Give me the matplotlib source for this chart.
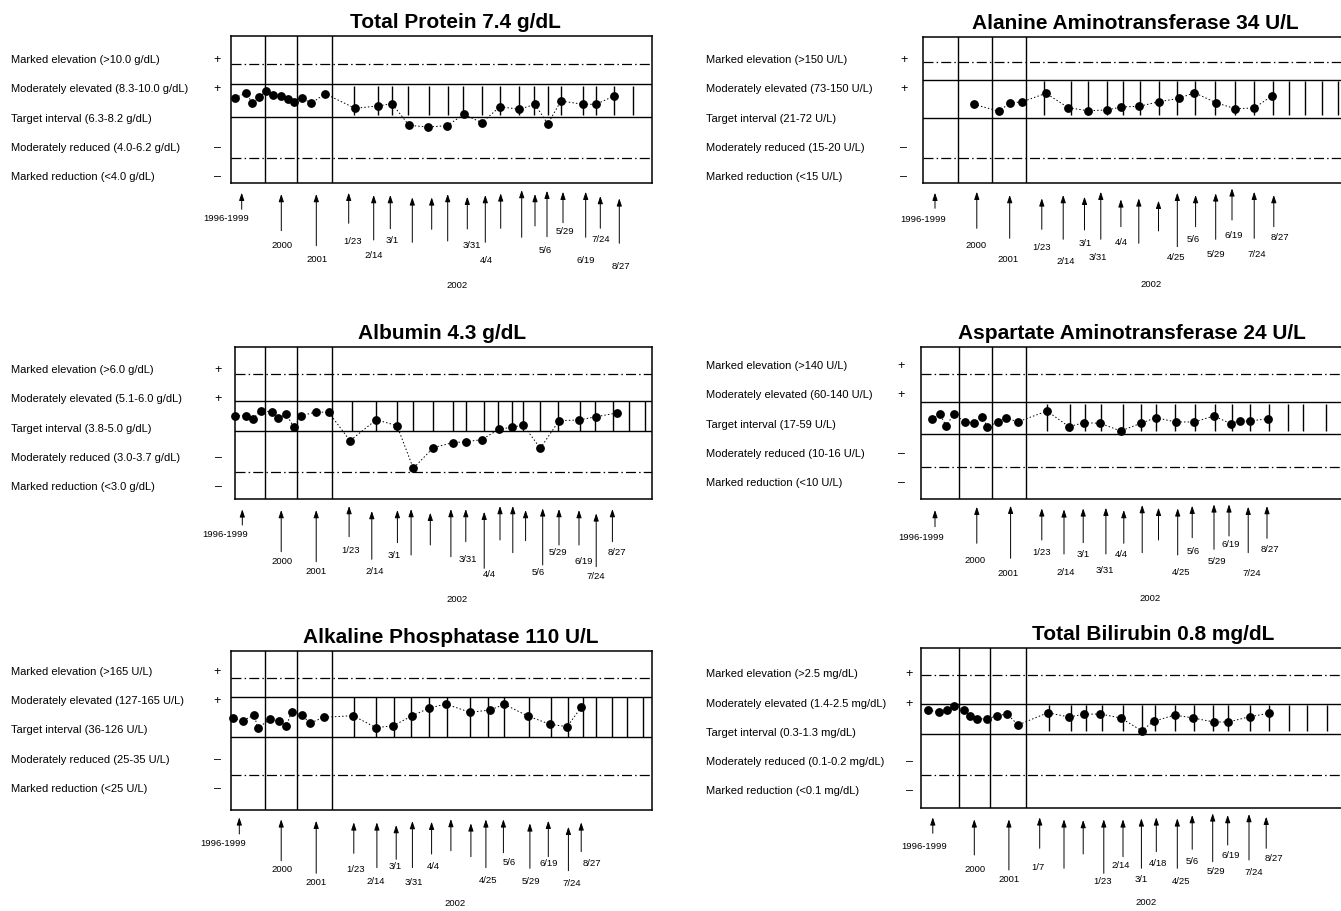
import matplotlib.pyplot as plt
from matplotlib.transforms import blended_transform_factory

plt.rcParams['font.family'] = ['Liberation Sans', 'DejaVu Sans']

FIG_W, FIG_H = 1341, 911

# значения: x - положение по шкале времени, y - уровень внутри рамки
# (единицы условные, отсчёт от левого верхнего угла рамки)

SIGNS = ['+', '+', '', '–', '–']

# ---------- Total Protein ----------
TP_TITLE = 'Total Protein 7.4 g/dL'
TP_ROWS = ['Marked elevation (>10.0 g/dL)', 'Moderately elevated (8.3-10.0 g/dL)',
           'Target interval (6.3-8.2 g/dL)', 'Moderately reduced (4.0-6.2 g/dL)',
           'Marked reduction (<4.0 g/dL)']
TP_X = [4, 15, 21.3, 28.3, 35, 42.3, 50.3, 56.7, 63.3, 70.7, 80.3, 94, 124, 146.7, 161, 178,
        197, 216, 233, 250.7, 269, 288.3, 304, 316.7, 330, 352.3, 365, 383]
TP_Y = [61.7, 57.3, 66.7, 61.3, 55, 59, 59.7, 63, 66, 61.7, 67.3, 57.7, 72.3, 70, 67.7, 89.3,
        91, 89.7, 78.3, 86.7, 70.7, 73.3, 68.3, 88, 65, 68.3, 68.3, 60]
TP_STEMS = [123, 146.7, 161.3, 177.3, 197.7, 216.7, 232.3, 251.3, 269, 288.3, 303.3, 316.7,
            330, 352.3, 365, 383, 401.7]
TP_ARR_X = [10.7, 50.3, 85.3, 117.7, 142.7, 159.3, 181.3, 200.7, 216.7, 236.3, 254.3, 269.7,
            290.7, 304, 316, 332, 354.7, 369.3, 388.3]
TP_ARR_TIP = [156.7, 158, 158, 156.7, 159, 159, 161.3, 161.3, 158, 160.7, 159, 157.3, 154, 158,
              154.7, 155.7, 155.7, 160, 162.3]
TP_ARR_END = [173.3, 194.7, 209.7, 187.3, 204, 192.7, 206.3, 193.3, 205, 193, 206.3, 192.3,
              201.3, 190, 200.7, 186.7, 201.3, 192.3, 207.3]
TP_ARR_TEXT = ['1996-1999', '2000', '2001', '1/23', '2/14', '3/1', '', '', '', '3/31', '4/4',
               '', '', '', '5/6', '5/29', '6/19', '7/24', '8/27']
TP_TXT_X = [-5, 51.3, 86.3, 121.7, 143, 161.3, None, None, None, 240.7, 255, None, None, None,
            314.7, 334, 355, 370, 389.7]
TP_TXT_Y = [182.3, 209.7, 223.3, 205.7, 220, 205, None, None, None, 209.7, 224.7, None, None,
            None, 214.7, 195.7, 224.7, 204, 230.7]
TP_YEAR = (225.7, 250)

# ---------- Alanine Aminotransferase ----------
ALT_TITLE = 'Alanine Aminotransferase 34 U/L'
ALT_ROWS = ['Marked elevation (>150 U/L)', 'Moderately elevated (73-150 U/L)',
            'Target interval (21-72 U/L)', 'Moderately reduced (15-20 U/L)',
            'Marked reduction (<15 U/L)']
ALT_X = [51, 76, 87, 98.7, 123, 145.3, 164.7, 183.7, 198.3, 216, 236.3, 256.3, 271.3, 293, 312,
         331.3, 348.7]
ALT_Y = [67.6, 74.6, 66, 65.3, 56.6, 71, 74, 73.3, 70.3, 69.6, 65, 61.6, 56, 66, 72, 71.3, 59.3]
ALT_STEMS = [121.3, 147.7, 164.7, 183.7, 199.7, 216.7, 236.3, 253.7, 271.7, 291.7, 312, 331.3,
             349.7, 366.3, 382, 398.7, 414.7]
ALT_ARR_X = [12, 53.8, 86.7, 118.8, 140.2, 161.5, 177.8, 197.9, 215.8, 235.5, 254.3, 272.6,
             292.7, 309, 331.2, 350.8]
ALT_ARR_TIP = [156, 155, 158.3, 161.6, 158.3, 160, 155, 162.6, 161.6, 164, 156, 158.3, 156.6,
               151.6, 155, 158.3]
ALT_ARR_END = [171.6, 191.6, 201.6, 192.6, 202.6, 193.3, 202.6, 190, 206.6, 194.3, 210, 190,
               202.6, 183.3, 201.6, 190]
ALT_ARR_TEXT = ['1996-1999', '2000', '2001', '1/23', '2/14', '3/1', '3/31', '4/4', '', '',
                '4/25', '5/6', '5/29', '6/19', '7/24', '8/27']
ALT_TXT_X = [0.4, 53.4, 85.5, 118.8, 143.2, 162.4, 175.2, 197.9, None, None, 253.4, 270.5,
             292.7, 311, 333.3, 357.3]
ALT_TXT_Y = [183.3, 209, 222.3, 210.6, 224.3, 206.6, 220.6, 206, None, None, 220.6, 203.3,
             217.6, 198.3, 217.6, 200.6]
ALT_YEAR = (227.8, 247.6)

# ---------- Albumin ----------
ALB_TITLE = 'Albumin 4.3 g/dL'
ALB_ROWS = ['Marked elevation (>6.0 g/dL)', 'Moderately elevated (5.1-6.0 g/dL)',
            'Target interval (3.8-5.0 g/dL)', 'Moderately reduced (3.0-3.7 g/dL)',
            'Marked reduction (<3.0 g/dL)']
ALB_X = [0, 11, 17.7, 26, 36.7, 43, 51.3, 58.7, 66.3, 81, 93.7, 115, 141.3, 162, 178.3, 198.3,
         217.7, 230.7, 246.7, 263.7, 276.7, 288.3, 305.3, 324, 343.7, 361.3, 381.7]
ALB_Y = [68.4, 68.4, 71.4, 63.7, 64.4, 71, 67, 79.7, 68.4, 64.7, 65, 93.4, 72.4, 78.4, 121,
         100.4, 95.4, 94.4, 92.4, 82, 80, 77.7, 101, 73.4, 72.7, 69.4, 65.7]
ALB_STEMS = [117.3, 141, 161.7, 178.3, 197.7, 217.7, 230.7, 248.7, 263.3, 277.3, 288.3, 305,
             323, 345, 360, 378.3, 394, 410]
ALB_ARR_X = [7.3, 46.2, 81.2, 114.1, 136.8, 162.4, 176.1, 195.3, 215.9, 230.8, 249.2, 265,
             277.8, 290.6, 307.7, 324, 344, 361.2, 377.4]
ALB_ARR_TIP = [162, 162.7, 162.7, 158.7, 163.7, 162.7, 161.7, 165.4, 161.7, 161.7, 164.4, 158.7,
               158.7, 162.7, 161, 161.7, 162.7, 166, 161.7]
ALB_ARR_END = [177.7, 204.4, 214.4, 189.4, 212, 195.4, 207.7, 197.7, 209.4, 194.4, 221, 192.7,
               205.4, 193.4, 217.7, 197.7, 197.7, 219.4, 194.4]
ALB_ARR_TEXT = ['1996-1999', '2000', '2001', '1/23', '2/14', '3/1', '', '', '', '3/31', '4/4',
                '', '', '', '5/6', '5/29', '6/19', '7/24', '8/27']
ALB_TXT_X = [-9.4, 47, 81.2, 115.4, 139.8, 159, None, None, None, 233, 254.3, None, None, None,
             303.5, 322.7, 348.3, 361.2, 381.7]
ALB_TXT_Y = [187, 213.7, 224.4, 203.4, 224.4, 208.4, None, None, None, 212.7, 227, None, None,
             None, 225.4, 205, 214.4, 229.4, 205]
ALB_YEAR = (222.3, 252.7)

# ---------- Aspartate Aminotransferase ----------
AST_TITLE = 'Aspartate Aminotransferase 24 U/L'
AST_ROWS = ['Marked elevation (>140 U/L)', 'Moderately elevated (60-140 U/L)',
            'Target interval (17-59 U/L)', 'Moderately reduced (10-16 U/L)',
            'Marked reduction (<10 U/L)']
AST_X = [10.7, 19, 25, 33, 44.3, 53, 61.3, 66.3, 77.3, 85, 97.3, 126, 148, 162.7, 179.3, 199.7,
         219.7, 235, 255, 273.3, 292.7, 310, 319, 329, 347.3]
AST_Y = [71.7, 67, 78.4, 67, 74.7, 75.4, 69.4, 79.7, 74.4, 71, 74.4, 63.7, 79.4, 75.4, 76, 83.7,
         76, 70.4, 74.7, 74.7, 68.7, 76.4, 73.4, 73.7, 71.4]
AST_STEMS = [126, 149, 164, 179.7, 201.7, 219.7, 235, 254.3, 274, 294.3, 311, 329.3, 347.7,
             366.7, 382.3, 405]
AST_ARR_X = [14, 55.8, 89.6, 120.8, 143, 162.2, 184.9, 202.8, 221.2, 237.5, 256.7, 271.2, 293,
             308, 327.2, 346]
AST_ARR_TIP = [162.7, 159.4, 158.4, 161, 162, 161, 160.4, 162.7, 157.7, 160.4, 161, 158.4, 157,
               157, 159.4, 158.7]
AST_ARR_END = [179.4, 196, 211, 192.7, 206.7, 195.4, 206.7, 196, 205.4, 192.7, 207.7, 190.4,
               202, 188.7, 205.4, 191]
AST_ARR_TEXT = ['1996-1999', '2000', '2001', '1/23', '2/14', '3/1', '3/31', '4/4', '', '',
                '4/25', '5/6', '5/29', '6/19', '7/24', '8/27']
AST_TXT_X = [0.3, 53.7, 86.6, 120.8, 144.3, 162.2, 184, 200.7, None, None, 260.5, 272.5, 296,
             309.7, 331, 349.4]
AST_TXT_Y = [190.4, 213.4, 226, 205, 225, 207, 223.7, 207, None, None, 225, 204.4, 214.4, 197,
             226, 202.7]
AST_YEAR = (229, 251)

# ---------- Alkaline Phosphatase ----------
ALP_TITLE = 'Alkaline Phosphatase 110 U/L'
ALP_ROWS = ['Marked elevation (>165 U/L)', 'Moderately elevated (127-165 U/L)',
            'Target interval (36-126 U/L)', 'Moderately reduced (25-35 U/L)',
            'Marked reduction (<25 U/L)']
ALP_X = [1.9, 11.7, 23.3, 26.7, 39.1, 48.1, 55.3, 60.5, 71.1, 78.8, 92.5, 122, 145.1, 162.2,
         181.4, 197.6, 214.7, 239.1, 259.2, 273.3, 296.8, 319, 336.1, 350.2]
ALP_Y = [67.6, 70, 64.3, 77.6, 68.3, 70.3, 75, 61.6, 64.3, 72.6, 66.6, 65, 77, 75, 65, 57.6,
         53.3, 61.6, 59.3, 53.6, 65.3, 73.6, 76, 56.6]
ALP_STEMS = [122.8, 145.1, 163, 180.1, 197.6, 215.6, 239.1, 257.5, 273.3, 298.1, 320.3, 337.4,
             352.3, 365.2, 381, 395.9, 412.2]
ALP_ARR_X = [8.3, 50.2, 85.2, 122.8, 145.9, 165.2, 181.4, 200.6, 219.9, 239.9, 254.9, 272.4,
             298.9, 317.3, 337.4, 350.2]
ALP_ARR_TIP = [166.6, 168.6, 170, 171.6, 171.6, 174.3, 170.3, 171, 168.3, 172.6, 168.6, 168.6,
               172.6, 170, 176, 171.6]
ALP_ARR_END = [183.3, 210, 222.6, 202.6, 217, 208.6, 217, 203.3, 200, 206, 217, 202, 217.6,
               206, 220, 201]
ALP_ARR_TEXT = ['1996-1999', '2000', '2001', '1/23', '2/14', '3/1', '3/31', '4/4', '', '',
                '4/25', '5/6', '5/29', '6/19', '7/24', '8/27']
ALP_TXT_X = [-7.5, 51, 85.2, 124.6, 145.1, 164.3, 182.7, 202.8, None, None, 257, 278.4, 300.2,
             317.3, 340.4, 360.9]
ALP_TXT_Y = [192.6, 218.6, 232, 218.6, 230.3, 216, 231.6, 216, None, None, 229.3, 211.6, 230.3,
             212.6, 232.6, 212.6]
ALP_YEAR = (224.1, 253)

# ---------- Total Bilirubin ----------
BIL_TITLE = 'Total Bilirubin 0.8 mg/dL'
BIL_ROWS = ['Marked elevation (>2.5 mg/dL)', 'Moderately elevated (1.4-2.5 mg/dL)',
            'Target interval (0.3-1.3 mg/dL)', 'Moderately reduced (0.1-0.2 mg/dL)',
            'Marked reduction (<0.1 mg/dL)']
BIL_X = [7.3, 17.7, 25.7, 33.3, 43, 49.3, 56.3, 66.3, 75.7, 86.3, 97, 126.7, 148, 162.7, 179.3,
         199.7, 220.7, 232.7, 253.7, 272, 293, 307, 329, 347.7]
BIL_Y = [62.6, 64, 62, 58.3, 62.3, 68, 71, 71.3, 68, 66.3, 77.3, 65, 69.3, 66.6, 66.3, 70.3, 83,
         73.6, 67.3, 70.3, 74.3, 74.3, 69, 65.6]
BIL_STEMS = [127.7, 150, 165, 181, 201.7, 221, 234, 254, 273.3, 292.3, 306.7, 329.3, 347.7,
             368.3, 386.3, 406.3]
BIL_ARR_X = [11.8, 53.3, 87.9, 118.7, 143, 162.2, 182.8, 202, 220.4, 235.3, 256.3, 271.2, 291.7,
             306.7, 328, 345.2]
BIL_ARR_TIP = [169.6, 171.6, 171.6, 169.6, 171.6, 172.3, 171.6, 171.6, 170.6, 169.6, 170.6,
               167.3, 165.6, 167.3, 166.3, 169]
BIL_ARR_END = [185.6, 207.3, 222.3, 200.6, 220.6, 206.3, 225.6, 209, 220.6, 204, 220.6, 201.6,
               214, 197.3, 212.3, 200.6]
BIL_ARR_TEXT = ['1996-1999', '2000', '2001', '1/7', '', '', '1/23', '2/14', '3/1', '4/18',
                '4/25', '5/6', '5/29', '6/19', '7/24', '8/27']
BIL_TXT_X = [3.3, 53.7, 87.9, 117.4, None, None, 181.5, 199.9, 220, 237, 260.5, 271.2, 294.7,
             309.7, 333.2, 352.8]
BIL_TXT_Y = [199, 221.6, 232.3, 219.6, None, None, 233.3, 217.3, 231.6, 216.3, 233.3, 214,
             223.3, 207.3, 224.6, 210.6]
BIL_YEAR = (225.5, 255)

# ---------- разметка (пиксели картинки) ----------
# рамка: левый край, верх, ширина, высота
BOX = {'tp': (231, 36, 420.7, 147.3), 'alt': (923, 36.7, 423, 146.6),
       'alb': (235, 347.3, 416.7, 152), 'ast': (921, 347.3, 425, 151.7),
       'alp': (231, 650.7, 420.7, 159.3), 'bil': (921, 647.7, 425, 160)}
# штрихпунктир сверху, сплошная, сплошная, штрихпунктир снизу
BANDS = {'tp': (28.3, 48.3, 81.3, 122.5), 'alt': (25.6, 43.3, 81, 121.6),
         'alb': (27, 53.5, 84, 124.4), 'ast': (27, 54.4, 87, 119.4),
         'alp': (27.6, 46, 86.6, 124.3), 'bil': (27.3, 56.3, 86.6, 127.3)}
SEPS = {'tp': (34, 65.7, 101.3), 'alt': (35.3, 69.3, 102.7), 'alb': (30.3, 61.7, 97.3),
        'ast': (37.7, 71.3, 104.7), 'alp': (34.4, 65.6, 101), 'bil': (37.7, 69, 104.7)}
STEM_GAP = {'tp': (2, 2), 'alt': (1, 3), 'alb': (0, 0), 'ast': (2, 3), 'alp': (0, 0),
            'bil': (1, 3)}
ROW0 = {'tp': 24, 'alt': 23.3, 'alb': 22.7, 'ast': 18.7, 'alp': 21, 'bil': 26.6}
TITLE_X = {'tp': 224, 'alt': 212, 'alb': 207, 'ast': 211, 'alp': 220, 'bil': 232.5}
LABEL_X = {'tp': 10.7, 'alb': 10.7, 'alp': 10.7, 'alt': 706, 'ast': 706, 'bil': 706}
SIGN_X = {'tp': 217.5, 'alb': 218.5, 'alp': 217, 'alt': 904, 'ast': 901, 'bil': 909}
ROW_STEP = 29.3

DASHDOT = (0, (8, 2.5, 1.2, 2.5))


def draw_panel(fig, key, title, rows, xs, ys, stems, arr_x, arr_tip, arr_end,
               arr_text, txt_x, txt_y, year):
    left, top, w, h = BOX[key]
    ax = fig.add_axes([left / FIG_W, 1 - (top + h) / FIG_H, w / FIG_W, h / FIG_H])
    ax.set_xlim(0, w)
    ax.set_ylim(h, 0)
    ax.set_xticks([])
    ax.set_yticks([])
    for s in ax.spines.values():
        s.set_linewidth(1.1)

    d1, s1, s2, d2 = BANDS[key]
    ax.axhline(d1, color='k', lw=0.9, ls=DASHDOT, zorder=1)
    ax.axhline(d2, color='k', lw=0.9, ls=DASHDOT, zorder=1)
    ax.axhline(s1, color='k', lw=1.0, zorder=1)
    ax.axhline(s2, color='k', lw=1.0, zorder=1)
    for x in SEPS[key]:
        ax.axvline(x, color='k', lw=1.0, zorder=1)

    g1, g2 = STEM_GAP[key]
    ax.vlines(stems, s1 + g1, s2 - g2, color='k', lw=1.0, zorder=2)

    ax.plot(xs, ys, color='k', lw=0.7, ls=(0, (1.5, 2.2)), marker='o', ms=5.3,
            clip_on=False, zorder=4)

    # стрелки с датами под рамкой
    for x, t, e in zip(arr_x, arr_tip, arr_end):
        ax.annotate('', xy=(x, t), xytext=(x, e), annotation_clip=False,
                    arrowprops=dict(arrowstyle='-|>,head_length=0.45,head_width=0.15',
                                    mutation_scale=10, color='k', lw=0.7,
                                    shrinkA=0, shrinkB=0))
    for lab, lx, ly in zip(arr_text, txt_x, txt_y):
        if lab:
            ax.text(lx, ly, lab, ha='center', va='center', fontsize=6.8)
    ax.text(year[0], year[1], '2002', ha='center', va='center', fontsize=6.8)

    ax.text(TITLE_X[key], -8, title, ha='center', va='baseline', fontsize=15,
            fontweight='bold')

    tr = blended_transform_factory(fig.transFigure, ax.transData)
    for i, (row, sign) in enumerate(zip(rows, SIGNS)):
        y = ROW0[key] + i * ROW_STEP
        ax.text(LABEL_X[key] / FIG_W, y, row, transform=tr, ha='left', va='center',
                fontsize=8)
        if sign:
            ax.text(SIGN_X[key] / FIG_W, y, sign, transform=tr, ha='center',
                    va='center', fontsize=9)


fig = plt.figure(figsize=(FIG_W / 100, FIG_H / 100), dpi=100)

draw_panel(fig, 'tp', TP_TITLE, TP_ROWS, TP_X, TP_Y, TP_STEMS, TP_ARR_X, TP_ARR_TIP,
           TP_ARR_END, TP_ARR_TEXT, TP_TXT_X, TP_TXT_Y, TP_YEAR)
draw_panel(fig, 'alt', ALT_TITLE, ALT_ROWS, ALT_X, ALT_Y, ALT_STEMS, ALT_ARR_X, ALT_ARR_TIP,
           ALT_ARR_END, ALT_ARR_TEXT, ALT_TXT_X, ALT_TXT_Y, ALT_YEAR)
draw_panel(fig, 'alb', ALB_TITLE, ALB_ROWS, ALB_X, ALB_Y, ALB_STEMS, ALB_ARR_X, ALB_ARR_TIP,
           ALB_ARR_END, ALB_ARR_TEXT, ALB_TXT_X, ALB_TXT_Y, ALB_YEAR)
draw_panel(fig, 'ast', AST_TITLE, AST_ROWS, AST_X, AST_Y, AST_STEMS, AST_ARR_X, AST_ARR_TIP,
           AST_ARR_END, AST_ARR_TEXT, AST_TXT_X, AST_TXT_Y, AST_YEAR)
draw_panel(fig, 'alp', ALP_TITLE, ALP_ROWS, ALP_X, ALP_Y, ALP_STEMS, ALP_ARR_X, ALP_ARR_TIP,
           ALP_ARR_END, ALP_ARR_TEXT, ALP_TXT_X, ALP_TXT_Y, ALP_YEAR)
draw_panel(fig, 'bil', BIL_TITLE, BIL_ROWS, BIL_X, BIL_Y, BIL_STEMS, BIL_ARR_X, BIL_ARR_TIP,
           BIL_ARR_END, BIL_ARR_TEXT, BIL_TXT_X, BIL_TXT_Y, BIL_YEAR)

plt.savefig('out.png', dpi=100)
